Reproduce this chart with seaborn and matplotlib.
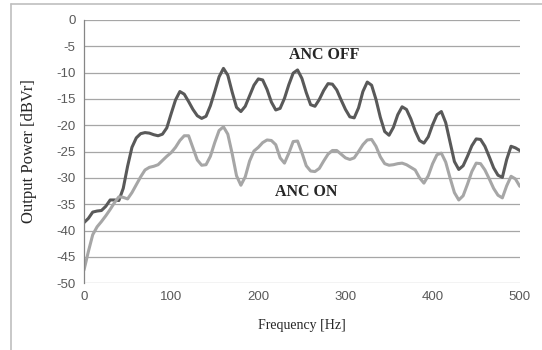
import numpy as np
import pandas as pd
import matplotlib.pyplot as plt
import seaborn as sns
from matplotlib.lines import Line2D

# frequency grid, read every 5 Hz off the picture
freq = list(range(0, 505, 5))

anc_off = [-38.5, -37.7, -36.5, -36.3, -36.2, -35.4, -34.2, -34.2, -34.3, -32.0,
           -27.8, -24.2, -22.4, -21.6, -21.4, -21.5, -21.8, -22.0, -21.7, -20.5,
           -17.8, -15.2, -13.6, -14.1, -15.5, -17.0, -18.2, -18.7, -18.3, -16.3,
           -13.6, -10.8, -9.2, -10.5, -13.7, -16.6, -17.4, -16.4, -14.4, -12.4,
           -11.2, -11.4, -13.2, -15.6, -17.1, -16.8, -14.9, -12.3, -10.1, -9.5,
           -11.1, -13.8, -16.1, -16.4, -15.1, -13.4, -12.1, -12.2, -13.3, -15.2,
           -17.0, -18.4, -18.6, -16.7, -13.6, -11.8, -12.4, -15.1, -18.5, -21.2,
           -21.9, -20.4, -18.0, -16.5, -17.0, -18.8, -21.1, -22.9, -23.4, -22.2,
           -19.9, -18.0, -17.4, -19.5, -23.2, -26.9, -28.4, -27.7, -25.9, -23.9,
           -22.6, -22.7, -24.0, -26.0, -28.1, -29.5, -29.9, -26.5, -24.0, -24.3,
           -24.8]

anc_on = [-47.5, -44.0, -40.8, -39.3, -38.3, -37.2, -36.0, -34.7, -33.6, -33.7,
          -34.0, -32.8, -31.3, -29.8, -28.5, -28.0, -27.8, -27.5, -26.7, -25.9,
          -25.2, -24.2, -22.9, -22.0, -22.0, -24.3, -26.6, -27.6, -27.5, -25.9,
          -23.3, -21.0, -20.3, -21.7, -25.4, -29.6, -31.4, -29.8, -26.8, -24.9,
          -24.2, -23.3, -22.8, -22.9, -23.7, -26.2, -27.2, -25.3, -23.1, -23.0,
          -25.2, -27.7, -28.7, -28.8, -28.2, -26.8, -25.5, -24.8, -24.8, -25.5,
          -26.2, -26.5, -26.2, -25.0, -23.7, -22.8, -22.7, -24.0, -26.0, -27.3,
          -27.6, -27.5, -27.3, -27.2, -27.5, -28.0, -28.5, -30.0, -31.0, -29.6,
          -27.3, -25.6, -25.3, -27.0, -30.0, -32.8, -34.2, -33.4, -31.2, -28.8,
          -27.2, -27.3, -28.5, -30.2, -32.0, -33.3, -33.8, -31.5, -29.7, -30.2,
          -31.6]

x_ticks = [0, 100, 200, 300, 400, 500]
y_ticks = [0, -5, -10, -15, -20, -25, -30, -35, -40, -45, -50]

df = pd.DataFrame({'freq': freq, 'off': anc_off, 'on': anc_on})

sns.set_style('white')
plt.rcParams['font.family'] = ['Liberation Sans', 'DejaVu Sans']

fig = plt.figure(figsize=(5.42, 3.5), dpi=100)
ax = fig.add_axes([0.155, 0.191, 0.804, 0.752])

sns.lineplot(data=df, x='freq', y='off', ax=ax, color='#595959', linewidth=2.2,
             solid_joinstyle='round', solid_capstyle='round')
sns.lineplot(data=df, x='freq', y='on', ax=ax, color='#a6a6a6', linewidth=2.2,
             solid_joinstyle='round', solid_capstyle='round')

ax.set_xlim(0, 500)
ax.set_ylim(-50, 0)
ax.set_xticks(x_ticks)
ax.set_yticks(y_ticks)
ax.set_yticklabels([str(v) for v in y_ticks])
ax.tick_params(length=0, labelsize=9.5, labelcolor='#595959', pad=6)
ax.yaxis.grid(True, color='#a6a6a6', linewidth=0.9)
ax.set_axisbelow(True)
for s in ['top', 'right', 'bottom']:
    ax.spines[s].set_visible(False)
ax.spines['left'].set_color('#868686')
ax.spines['left'].set_linewidth(0.9)

ax.set_xlabel('Frequency [Hz]', family='Liberation Serif', fontsize=10, labelpad=11)
ax.set_ylabel('Output Power [dBVr]', family='Liberation Serif', fontsize=12, labelpad=14)

ax.text(276, -6.6, 'ANC OFF', family='Liberation Serif', fontweight='bold',
        fontsize=11.5, ha='center', va='center')
ax.text(255, -32.7, 'ANC ON', family='Liberation Serif', fontweight='bold',
        fontsize=11.5, ha='center', va='center')

# outer chart frame (runs off the right and bottom edges)
fig.add_artist(Line2D([11 / 542, 11 / 542], [1 - 4 / 350, 0], color='#bfbfbf', lw=1.2))
fig.add_artist(Line2D([11 / 542, 1], [1 - 4 / 350, 1 - 4 / 350], color='#bfbfbf', lw=1.2))

fig.savefig('out.png', dpi=100)
